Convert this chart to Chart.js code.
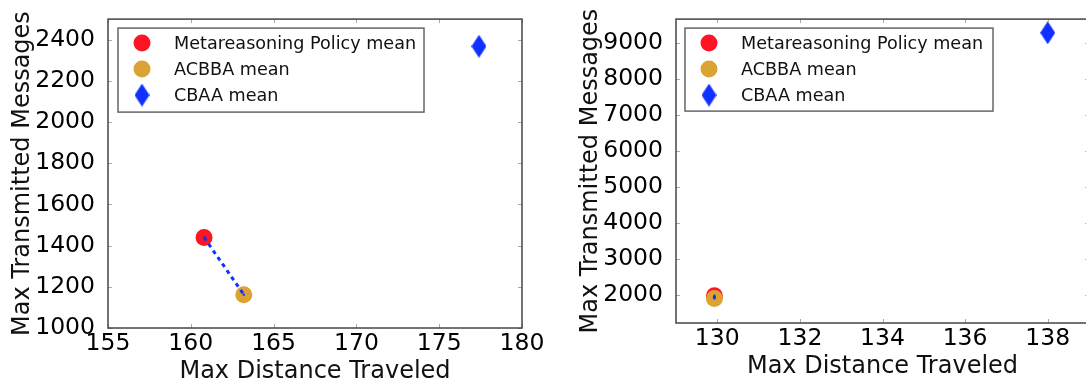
<!DOCTYPE html>
<html>
<head>
<meta charset="utf-8">
<script src="https://cdn.jsdelivr.net/npm/chart.js@4.4.1/dist/chart.umd.min.js"></script>
<style>
  html, body { margin: 0; padding: 0; background: #fff; overflow: hidden; }
  #wrap { width: 1086px; height: 389px; display: flex; overflow: hidden; }
  .panel { width: 543px; height: 389px; overflow: hidden; flex: none; }
  canvas { display: block; }
</style>
</head>
<body>
<div id="wrap">
  <div class="panel"><canvas id="left" width="543" height="389"></canvas></div>
  <div class="panel"><canvas id="right" width="560" height="389"></canvas></div>
</div>
<script>
// --- Data ---
const seriesNames = ['Metareasoning Policy mean', 'ACBBA mean', 'CBAA mean'];

// left panel
const leftDistance = [160.8, 163.2, 177.4];
const leftMessages = [1440, 1162, 2368];
const leftXTicks = [155, 160, 165, 170, 175, 180];
const leftYTicks = [1000, 1200, 1400, 1600, 1800, 2000, 2200, 2400];

// right panel
const rightDistance = [129.93, 129.93, 138.0];
const rightMessages = [1990, 1915, 9290];
const rightXTicks = [130, 132, 134, 136, 138];
const rightYTicks = [2000, 3000, 4000, 5000, 6000, 7000, 8000, 9000];

const RED = '#ff1424';
const GOLD = '#daa334';
const BLUE = '#1030ff';
const FONT = 'DejaVu Sans';

// thin diamond like matplotlib 'd'
const makeDiamond = (w, h) => {
    const c = document.createElement('canvas');
    c.width = w; c.height = h;
    const g = c.getContext('2d');
    g.fillStyle = BLUE;
    g.beginPath();
    g.moveTo(w / 2, 0); g.lineTo(w, h / 2); g.lineTo(w / 2, h); g.lineTo(0, h / 2);
    g.closePath(); g.fill();
    return c;
};
const diamond = makeDiamond(15, 23);

// --- Frame, inward ticks and legend inside the axes ---
const insidePlugin = {
    id: 'inside',
    afterDraw(chart, args, opts) {
        const { ctx, chartArea: a, scales: { x, y } } = chart;
        ctx.save();
        ctx.strokeStyle = '#aaa';
        ctx.lineWidth = 1;
        const line = (x1, y1, x2, y2) => { ctx.beginPath(); ctx.moveTo(x1, y1); ctx.lineTo(x2, y2); ctx.stroke(); };
        x.ticks.forEach(t => {
            const px = Math.round(x.getPixelForValue(t.value)) + 0.5;
            line(px, a.bottom, px, a.bottom - 4);
            line(px, a.top, px, a.top + 4);
        });
        y.ticks.forEach(t => {
            const py = Math.round(y.getPixelForValue(t.value)) + 0.5;
            line(a.left, py, a.left + 4, py);
            line(a.right, py, a.right - 4, py);
        });

        ctx.strokeStyle = '#444';
        ctx.lineWidth = 1.5;
        ctx.strokeRect(a.left, a.top, a.width, a.height);

        // legend
        const bx = a.left + opts.offsetX, by = a.top + opts.offsetY;
        ctx.fillStyle = '#fff';
        ctx.fillRect(bx, by, opts.width, opts.height);
        ctx.strokeStyle = '#666';
        ctx.lineWidth = 1.5;
        ctx.strokeRect(bx, by, opts.width, opts.height);

        ctx.font = '17.6px "' + FONT + '"';
        ctx.textBaseline = 'middle';
        ctx.textAlign = 'left';
        const items = chart.data.datasets.filter(d => d.label);
        items.forEach((d, i) => {
            const cy = by + 15 + i * 26;
            const mx = bx + 24;
            if (d.pointStyle === 'circle') {
                ctx.fillStyle = d.backgroundColor;
                ctx.beginPath();
                ctx.arc(mx, cy, 8.5, 0, Math.PI * 2);
                ctx.fill();
            } else {
                ctx.drawImage(diamond, mx - diamond.width / 2, cy - diamond.height / 2);
            }
            ctx.fillStyle = '#111';
            ctx.fillText(d.label, bx + 56, cy + 1);
        });
        ctx.restore();
    }
};

const buildDatasets = (xs, ys) => [
    {
        data: [{ x: xs[0], y: ys[0] }, { x: xs[1], y: ys[1] }],
        showLine: true,
        borderColor: BLUE,
        borderWidth: 3,
        borderDash: [4, 4],
        pointStyle: 'rect',
        pointRadius: 1.5,
        pointBackgroundColor: BLUE,
        pointBorderWidth: 0,
        order: 0
    },
    {
        label: seriesNames[1],
        data: [{ x: xs[1], y: ys[1] }],
        pointStyle: 'circle',
        backgroundColor: GOLD,
        pointRadius: 8.5,
        borderWidth: 0,
        order: 1
    },
    {
        label: seriesNames[0],
        data: [{ x: xs[0], y: ys[0] }],
        pointStyle: 'circle',
        backgroundColor: RED,
        pointRadius: 8.5,
        borderWidth: 0,
        order: 2
    },
    {
        label: seriesNames[2],
        data: [{ x: xs[2], y: ys[2] }],
        pointStyle: diamond,
        backgroundColor: BLUE,
        pointRadius: 10,
        borderWidth: 0,
        order: 3
    }
];

// reorder legend entries to Metareasoning, ACBBA, CBAA
const legendOrder = ds => [ds[0], ds[2], ds[1], ds[3]];

const makeChart = (id, cfg) => new Chart(document.getElementById(id), {
    type: 'scatter',
    data: { datasets: legendOrder(buildDatasets(cfg.xs, cfg.ys)) },
    plugins: [insidePlugin],
    options: {
        responsive: false,
        animation: false,
        events: [],
        layout: { padding: cfg.padding },
        plugins: {
            legend: { display: false },
            tooltip: { enabled: false },
            inside: cfg.legend
        },
        scales: {
            x: {
                type: 'linear',
                min: cfg.xMin,
                max: cfg.xMax,
                afterBuildTicks: s => { s.ticks = cfg.xTicks.map(v => ({ value: v })); },
                afterFit: s => { s.height = cfg.xAxisH; },
                grid: { display: false },
                border: { display: false },
                ticks: { color: '#000', padding: -6, font: { family: FONT, size: 23.5 }, callback: v => String(v) },
                title: {
                    display: true,
                    text: 'Max Distance Traveled',
                    color: '#111',
                    font: { family: FONT, size: 24 },
                    padding: { top: 0, bottom: cfg.xTitlePad }
                }
            },
            y: {
                type: 'linear',
                min: cfg.yMin,
                max: cfg.yMax,
                afterBuildTicks: s => { s.ticks = cfg.yTicks.map(v => ({ value: v })); },
                afterFit: s => { s.width = cfg.yAxisW; },
                grid: { display: false },
                border: { display: false },
                ticks: { color: '#000', padding: 5, font: { family: FONT, size: 23.5 }, callback: v => String(v) },
                title: {
                    display: true,
                    text: 'Max Transmitted Messages',
                    color: '#111',
                    font: { family: FONT, size: 24 },
                    padding: { top: cfg.yTitlePad, bottom: 0 }
                }
            }
        }
    }
});

makeChart('left', {
    xs: leftDistance, ys: leftMessages,
    xMin: 155, xMax: 180, yMin: 1000, yMax: 2500,
    xTicks: leftXTicks, yTicks: leftYTicks,
    padding: { top: 8, right: 21, left: 0, bottom: 0 },
    xAxisH: 61, yAxisW: 108,
    xTitlePad: 3, yTitlePad: 8,
    legend: { offsetX: 10, offsetY: 9, width: 306, height: 84 }
});

makeChart('right', {
    xs: rightDistance, ys: rightMessages,
    xMin: 129, xMax: 139, yMin: 1233, yMax: 9670,
    xTicks: rightXTicks, yTicks: rightYTicks,
    padding: { top: 4, right: 14, left: 0, bottom: 0 },
    xAxisH: 66, yAxisW: 133,
    xTitlePad: 8, yTitlePad: 33,
    legend: { offsetX: 9, offsetY: 9, width: 308, height: 83 }
});
</script>
</body>
</html>
